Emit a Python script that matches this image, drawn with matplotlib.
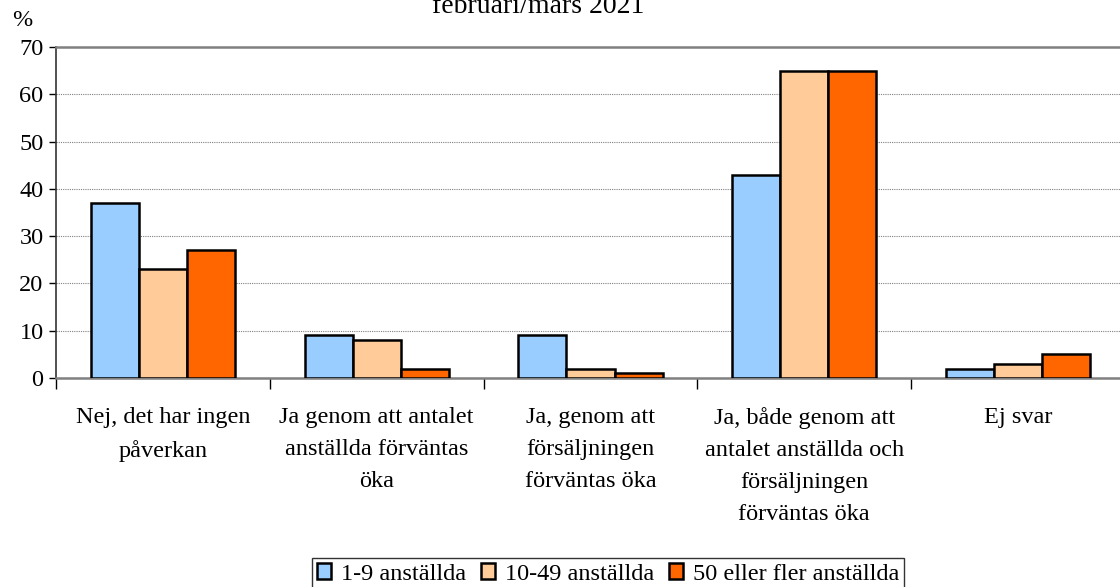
import matplotlib
matplotlib.use("Agg")
import matplotlib.pyplot as plt
import numpy as np

categories = ["Nej, det har ingen\npåverkan",
              "Ja genom att antalet\nanställda förväntas\nöka",
              "Ja, genom att\nförsäljningen\nförväntas öka",
              "Ja, både genom att\nantalet anställda och\nförsäljningen\nförväntas öka",
              "Ej svar"]
series_names = ["1-9 anställda", "10-49 anställda", "50 eller fler anställda"]
s1 = [37, 9, 9, 43, 2]
s2 = [23, 8, 2, 65, 3]
s3 = [27, 2, 1, 65, 5]
yticks = [0, 10, 20, 30, 40, 50, 60, 70]
colors = ["#99CCFF", "#FFCC99", "#FF6600"]

plt.rcParams['font.family'] = ['Liberation Serif', 'DejaVu Serif']
FS = 17.5

fig = plt.figure(figsize=(11.2, 5.87), dpi=100)
ax = fig.add_axes([56/1120, 1-378/587, (1125-56)/1120, (378-47)/587])

x = np.arange(len(categories))
w = 0.225
for i, (vals, c, name) in enumerate(zip([s1, s2, s3], colors, series_names)):
    ax.bar(x + (i-1)*w, vals, width=w, color=c, edgecolor='black', linewidth=1.8,
           label=name, zorder=3)

ax.set_xlim(-0.5, len(categories)-0.5)
ax.set_ylim(0, 70)
ax.set_yticks(yticks)
ax.set_yticklabels([str(t) for t in yticks], fontsize=FS)
ax.yaxis.grid(True, color='#808080', linewidth=0.8, linestyle=(0, (1, 1)), zorder=0)

ax.set_xticks(x)
ax.set_xticklabels(categories, fontsize=FS, linespacing=1.68, va='top')
ax.tick_params(axis='x', which='major', length=0, pad=21)
ax.set_xticks(np.arange(len(categories)+1) - 0.5, minor=True)
ax.tick_params(axis='x', which='minor', length=8, width=1, color='black')
ax.tick_params(axis='y', length=5, width=1, color='black', pad=4)

ax.spines['right'].set_visible(False)
ax.spines['top'].set_color('#808080')
ax.spines['top'].set_linewidth(1.8)
ax.spines['bottom'].set_color('#808080')
ax.spines['bottom'].set_linewidth(1.8)
ax.spines['left'].set_color('#333333')
ax.spines['left'].set_linewidth(1.2)

fig.text(12/1120, 1-20/587, "%", fontsize=FS, ha='left', va='center')
fig.text(538/1120, 1-13/587, "februari/mars 2021", fontsize=20, ha='center', va='baseline')

leg = fig.legend(loc='center', bbox_to_anchor=(608/1120, 1-574/587), ncol=3, fontsize=FS,
                 frameon=True, fancybox=False, edgecolor='black', handlelength=0.6,
                 handleheight=0.6, handletextpad=0.4, columnspacing=0.6, borderpad=0.2,
                 borderaxespad=0)
leg.get_frame().set_linewidth(1.0)

fig.savefig("out.png", dpi=100)
